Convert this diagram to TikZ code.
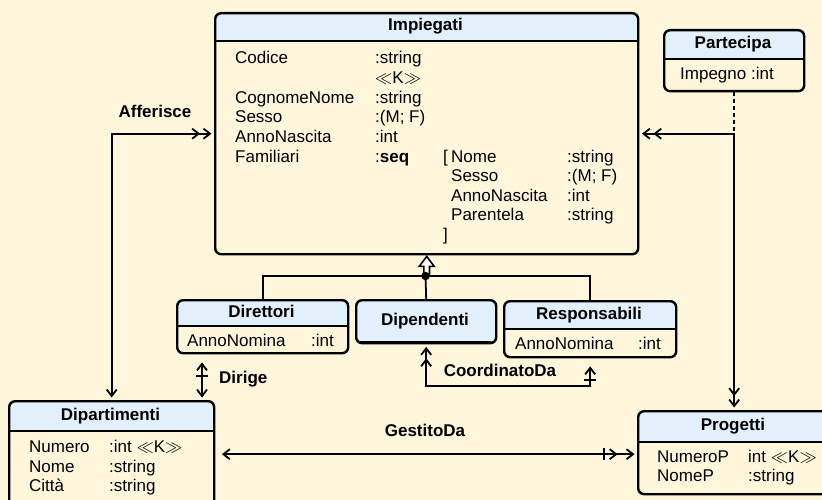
\documentclass[tikz,border=0pt]{standalone}
\usepackage{fontspec}
\setmainfont{Liberation Sans}
\usetikzlibrary{arrows.meta}

\definecolor{bgcream}{RGB}{255,246,220}
\definecolor{headblue}{RGB}{225,240,251}

\tikzset{
  chev/.tip={Straight Barb[length=6.5pt,width=10pt,sep=2.5pt]},
  crossbar/.tip={Bar[width=12pt,sep=4pt]},
  conn/.style={line width=1.8pt},
  boxline/.style={line width=2.2pt},
  classframe/.style={draw, line width=2.4pt, rounded corners=6pt, inner sep=0pt},
  classtitle/.style={font=\fontsize{17}{20}\selectfont\bfseries, inner sep=0pt, text height=12.5pt, text depth=3.5pt},
  attr/.style={font=\fontsize{17}{20}\selectfont, inner sep=0pt, anchor=base west},
  lbl/.style={font=\fontsize{17}{20}\selectfont\bfseries, inner sep=0pt, anchor=base},
}

% name, x1, y1, x2, y2, y of header line, title
\newcommand{\umlclass}[7]{%
  \begin{scope}
    \clip[rounded corners=6pt] (#2,#3) rectangle (#4,#5);
    \fill[bgcream] (#2,#3) rectangle (#4,#5);
    \fill[headblue] (#2,#3) rectangle (#4,#6);
    \draw[boxline] (#2,#6) -- (#4,#6);
  \end{scope}
  \node[classframe, minimum width={#4-#2}, minimum height={#5-#3}, anchor=north west] (#1) at (#2,#3) {};
  \node[classtitle] (#1-title) at ({(#2+#4)/2},{(#3+#6)/2}) {#7};
}

\begin{document}
\begin{tikzpicture}[x=1pt,y=-1pt]
    \useasboundingbox (0,0) rectangle (822,500);
    \clip (0,0) rectangle (822,500);
    \fill[bgcream] (0,0) rectangle (822,500);

    % classes
    \umlclass{Impiegati}{214}{12}{637}{253}{41}{Impiegati}
    \umlclass{Partecipa}{663}{29}{803}{90}{59}{Partecipa}
    \umlclass{Direttori}{176}{299}{347}{352}{326}{Direttori}
    \umlclass{Dipendenti}{355}{299}{495}{342}{342}{Dipendenti}
    \umlclass{Responsabili}{503}{300}{675}{356}{329}{Responsabili}
    \umlclass{Dipartimenti}{8}{400}{213}{506}{431}{Dipartimenti}
    \umlclass{Progetti}{637}{410}{829}{493}{442}{Progetti}

    \foreach \n/\t [count=\i from 0] in {Codice/:string, {}/{$\ll$K$\gg$}, CognomeNome/:string,
        Sesso/{:(M; F)}, AnnoNascita/:int, Familiari/{:\textbf{seq}}}
    {
        \node[attr] (imp-n\i) at (235,{64+19.6*\i}) {\n};
        \node[attr] (imp-t\i) at (375,{64+19.6*\i}) {\t};
    }
    \node[attr] (fam-open) at (443,162) {[};
    \foreach \n/\t [count=\i from 0] in {Nome/:string, Sesso/{:(M; F)}, AnnoNascita/:int, Parentela/:string}
    {
        \node[attr] (fam-n\i) at (451,{162+19.6*\i}) {\n};
        \node[attr] (fam-t\i) at (567,{162+19.6*\i}) {\t};
    }
    \node[attr] (fam-close) at (443,240.4) {]};

    \node[attr] (par-r) at (680,80) {Impegno :int};
    \node[attr] (dir-n) at (187,346) {AnnoNomina};
    \node[attr] (dir-t) at (311,346) {:int};
    \node[attr] (res-n) at (515,349) {AnnoNomina};
    \node[attr] (res-t) at (638,349) {:int};

    \foreach \n/\t [count=\i from 0] in {Numero/{:int $\ll$K$\gg$}, Nome/:string, Città/:string}
    {
        \node[attr] (dip-n\i) at (29,{452.7+19.6*\i}) {\n};
        \node[attr] (dip-t\i) at (109,{452.7+19.6*\i}) {\t};
    }
    \foreach \n/\t [count=\i from 0] in {NumeroP/{int $\ll$K$\gg$}, NomeP/:string}
    {
        \node[attr] (pro-n\i) at (657,{462.7+19*\i}) {\n};
        \node[attr] (pro-t\i) at (748,{462.7+19*\i}) {\t};
    }

    % generalization
    \coordinate (isa) at (425.5,276);
    \draw[conn] (Direttori.north) |- (isa) -| (Responsabili.north);
    \draw[conn] (isa) -- (Dipendenti.north);
    \draw[line width=1.6pt, fill=white, line join=miter] (Impiegati.south) ++(0,1) -- ++(7.5,10) -- ++(-4.7,0)
        -- ++(0,9) -- ++(-5.6,0) -- ++(0,-9) -- ++(-4.7,0) -- cycle;
    \fill (isa) circle (4.2);

    % associations
    \draw[conn, {chev[]}-{chev[] chev[]}] (Dipartimenti.north) |- (Impiegati.west);
    \node[lbl] (afferisce) at (155,118) {Afferisce};

    \draw[conn, {chev[] chev[]}-{chev[] chev[]}] (Impiegati.east) -| (Progetti.north);
    \draw[conn, dash pattern=on 4pt off 3pt] (Partecipa.south) -- (Partecipa.south |- Impiegati.east);

    \coordinate (dirige) at (202,376);
    \draw[conn, {chev[sep=8pt] crossbar[]}-{chev[]}] (dirige |- Direttori.south) -- (dirige |- Dipartimenti.north);
    \node[lbl, anchor=base west] (dirige-lbl) at (219,383) {Dirige};

    \coordinate (coord) at (500,386);
    \draw[conn, {chev[] chev[]}-{crossbar[] chev[sep=8pt]}] (Dipendenti.south) |- (coord) -| (Responsabili.south);
    \node[lbl] (coord-lbl) at (500,376) {CoordinatoDa};

    \draw[conn, shorten <=4pt, {chev[]}-{crossbar[] chev[sep=8pt] chev[]}] (Dipartimenti.east) -- (Dipartimenti.east -| Progetti.west);
    \node[lbl] (gestito-lbl) at (425,436) {GestitoDa};

\end{tikzpicture}
\end{document}
